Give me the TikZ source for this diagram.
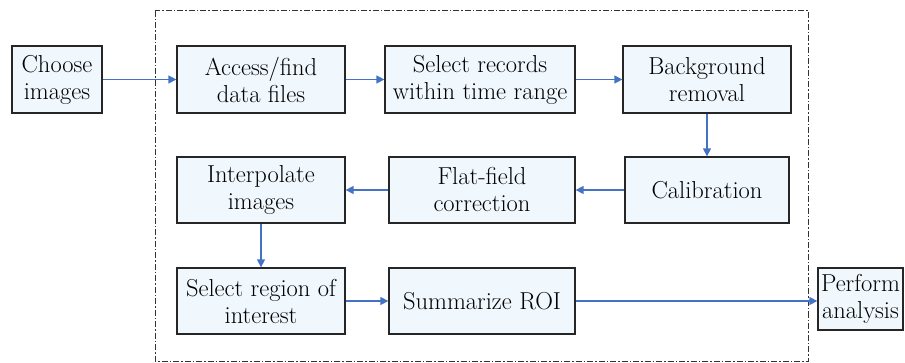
\documentclass[tikz,border=0pt]{standalone}
\usetikzlibrary{arrows.meta}
\definecolor{boxfill}{RGB}{240,247,253}
\definecolor{arrowblue}{RGB}{68,114,196}
\tikzset{
  stepbox/.style={draw=black!85, line width=1.3pt, fill=boxfill, align=center,
    inner sep=0pt, font=\rmfamily\fontsize{24.5pt}{27pt}\selectfont},
  flow/.style={draw=arrowblue, line width=1.4pt, -{Triangle[length=8pt,width=8pt]}},
  frame/.style={draw=black!80, line width=1pt, dash pattern=on 6pt off 2pt on 1.5pt off 2pt}
}
\begin{document}
\begin{tikzpicture}[x=1pt,y=-1pt]
\useasboundingbox (0,0) rectangle (905,363);
\draw[frame] (155,11) rectangle (808,361);
\node[stepbox, minimum width=90pt, minimum height=67pt] (choose) at (57,79.5) {Choose\\images};
\node[stepbox, minimum width=168pt, minimum height=67pt] (access) at (261,79.5) {Access/find\\data files};
\node[stepbox, minimum width=190pt, minimum height=67pt] (select) at (480,79.5) {Select records\\within time range};
\node[stepbox, minimum width=168pt, minimum height=67pt] (bg) at (707,79.5) {Background\\removal};
\node[stepbox, minimum width=164pt, minimum height=66pt] (calib) at (707,190) {Calibration};
\node[stepbox, minimum width=186pt, minimum height=66pt] (flat) at (482,190) {Flat-field\\correction};
\node[stepbox, minimum width=168pt, minimum height=66pt] (interp) at (261,190) {Interpolate\\images};
\node[stepbox, minimum width=168pt, minimum height=66pt] (roi) at (261,301) {Select region of\\interest};
\node[stepbox, minimum width=186pt, minimum height=66pt] (summ) at (482,301) {Summarize ROI};
\node[stepbox, minimum width=85pt, minimum height=62pt] (perf) at (860.5,299) {Perform\\analysis};
\draw[flow] (choose) -- (access);
\draw[flow] (access) -- (select);
\draw[flow] (select) -- (bg);
\draw[flow] (bg) -- (calib);
\draw[flow] (calib) -- (flat);
\draw[flow] (flat) -- (interp);
\draw[flow] (interp) -- (roi);
\draw[flow] (roi) -- (summ);
\draw[flow] (summ.east) -- (summ.east -| perf.west);
\end{tikzpicture}
\end{document}
